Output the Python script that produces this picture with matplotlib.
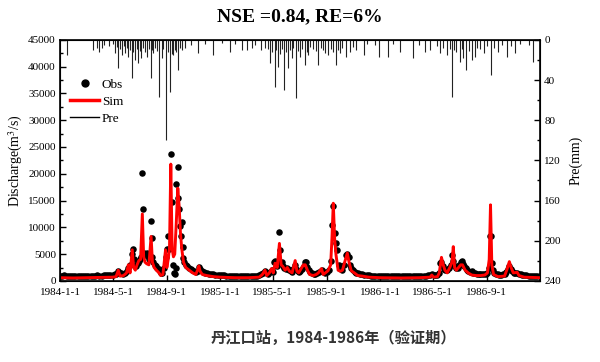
import numpy as np
import pandas as pd
import matplotlib
matplotlib.use('Agg')
import matplotlib.pyplot as plt
from matplotlib.lines import Line2D
from matplotlib.ticker import MultipleLocator

# days counted from 1984-01-01
start = pd.Timestamp('1984-01-01')

# simulated discharge (m3/s)
sim_day = [0, 30, 60, 90, 120, 128, 133, 137, 145, 152, 156, 160, 165, 168, 172, 176, 180, 184, 188, 191,
           194, 198, 203, 208, 211, 215, 220, 226, 230, 235, 238, 241, 244, 247, 250, 253, 256, 259, 262, 265,
           269, 272, 275, 278, 282, 287, 295, 303, 310, 314, 317, 320, 325, 335, 350, 366,
           400, 430, 455, 462, 468, 472, 478, 483, 487, 491, 496, 501, 505, 509, 514, 519, 524, 530, 537, 541,
           545, 552, 556, 560, 565, 570, 578, 585, 590, 597, 601, 606, 612, 618, 621, 624, 627, 630, 635, 640,
           645, 650, 656, 660, 665, 672, 680, 690, 705, 731,
           780, 820, 845, 849, 853, 862, 866, 871, 875, 879, 884, 890, 895, 898, 901, 905, 910, 915, 919, 925,
           932, 940, 950, 960, 970, 976, 980, 983, 986, 990, 1000, 1015, 1020, 1026, 1030, 1035, 1044, 1048,
           1060, 1096]
sim_q = [600, 550, 600, 650, 700, 800, 2000, 900, 1000, 1500, 3000, 1500, 5800, 2500, 2000, 3000, 3800, 4000, 12500, 4500,
         3500, 3200, 3000, 8300, 3500, 2500, 2000, 1500, 1000, 1200, 3500, 5800, 2500, 4000, 6000, 21800, 6000, 4500, 5000, 10000,
         17300, 14000, 9000, 6000, 3500, 2500, 2000, 1500, 1200, 2000, 2800, 1800, 1200, 1000, 800, 700,
         600, 600, 700, 1200, 2000, 1000, 1500, 2300, 1500, 3300, 2500, 7000, 3000, 2700, 2000, 2500, 1800, 1500, 3800, 1800,
         1500, 2500, 3000, 3000, 2000, 1200, 1000, 1200, 1500, 2300, 1200, 1500, 1900, 3000, 8000, 14500, 8000, 5000, 2000, 1800,
         2000, 3500, 5200, 3500, 1900, 1500, 1000, 900, 700, 600,
         550, 600, 700, 1100, 700, 800, 1500, 4400, 3000, 2000, 1500, 2500, 3500, 6400, 2500, 2000, 2500, 3000, 3000, 2000,
         1500, 1100, 1000, 1000, 1100, 1500, 4000, 14200, 3000, 1200, 800, 900, 2000, 3600, 2500, 1500, 1600, 1000,
         700, 600]

obs_day = [0, 5, 10, 15, 20, 25, 30, 35, 40, 45, 50, 55, 60, 65, 70, 75, 80, 85, 90, 95, 100, 105, 110, 115, 120, 125,
           129, 133, 136, 140, 144, 148, 152, 156, 160, 164, 166, 168, 171, 174, 177, 180, 183, 186, 188, 190, 192, 195,
           198, 201, 204, 207, 209, 211, 213, 216, 219, 222, 225, 228, 231, 234, 237, 241, 244, 247, 250, 253, 255, 258,
           260, 262, 264, 266, 269, 270, 272, 274, 276, 278, 280, 281, 284, 287, 290, 294, 298, 302, 306, 310, 314, 317,
           320, 324, 328, 332, 336, 340, 345, 350, 355, 360, 365,
           370, 375, 380, 385, 390, 395, 400, 405, 410, 415, 420, 425, 430, 435, 440, 445, 450, 455, 460, 464, 468, 472,
           476, 480, 483, 486, 489, 492, 495, 498, 501, 503, 506, 509, 512, 515, 518, 521, 524, 527, 530, 533, 537, 540,
           543, 546, 549, 552, 556, 559, 562, 565, 568, 571, 575, 579, 583, 587, 591, 595, 598, 602, 606, 610, 614, 618,
           621, 624, 627, 630, 633, 636, 639, 642, 645, 649, 653, 656, 659, 662, 665, 669, 673, 677, 681, 685, 690, 695,
           700, 705, 710, 715, 720, 725, 730,
           735, 740, 745, 750, 755, 760, 765, 770, 775, 780, 785, 790, 795, 800, 805, 810, 815, 820, 825, 830, 835, 840,
           845, 849, 853, 857, 861, 865, 868, 871, 874, 877, 880, 884, 888, 892, 896, 898, 901, 904, 908, 912, 915, 917,
           920, 923, 926, 929, 932, 936, 940, 944, 948, 952, 956, 960, 964, 968, 972, 976, 980, 982, 984, 986, 988, 991,
           995, 999, 1003, 1007, 1011, 1015, 1019, 1023, 1026, 1029, 1032, 1036, 1040, 1044, 1048, 1052, 1056, 1060,
           1065, 1070, 1075, 1080, 1085, 1090, 1095]
obs_q = [950, 1000, 1050, 980, 950, 1000, 960, 920, 950, 980, 950, 930, 960, 1000, 980, 950, 1000, 1050, 1000, 980, 1050, 1100, 1050, 1100, 1150, 1200,
         1300, 1800, 1500, 1400, 1300, 1500, 1800, 2500, 3000, 5000, 6000, 4000, 3000, 2800, 3300, 3800, 4000, 4500, 20100, 13400, 5200, 4800,
         5200, 4600, 4000, 11100, 8100, 4500, 3500, 3000, 2800, 2500, 2200, 1800, 1500, 1400, 2500, 4500, 6000, 8300, 6000, 23600, 14800, 3000,
         1500, 1200, 2500, 18000, 21300, 15400, 13400, 10200, 8300, 11000, 6300, 4200, 3500, 3000, 2700, 2400, 2200, 2000, 1800, 1700, 1900, 2600,
         2200, 1800, 1600, 1500, 1400, 1300, 1250, 1200, 1150, 1100, 1100,
         1100, 1050, 1000, 1000, 980, 950, 950, 920, 900, 900, 880, 900, 900, 920, 950, 950, 1000, 1050, 1200, 1500, 1800, 1400,
         1300, 1600, 2000, 1700, 3600, 3700, 2800, 3500, 9100, 5800, 3500, 2800, 2400, 2200, 2500, 2200, 2000, 1800, 1700, 2200, 3000, 2200,
         1800, 1600, 1900, 2300, 2800, 3600, 3500, 2600, 2000, 1700, 1500, 1300, 1300, 1500, 1700, 1900, 2000, 1600, 1500, 1700, 2000, 3700,
         10400, 13900, 9000, 7000, 5800, 3000, 2500, 2200, 2100, 3000, 4900, 5000, 4500, 3000, 2500, 2000, 1700, 1500, 1400, 1300, 1200, 1150,
         1100, 1050, 1000, 1000, 980, 960, 950,
         950, 930, 920, 900, 900, 880, 880, 870, 880, 880, 900, 900, 900, 920, 950, 950, 950, 980, 1000, 1000, 1000, 1050,
         1100, 1300, 1100, 1050, 1100, 1500, 3300, 3600, 2800, 2300, 2000, 2100, 2500, 3000, 4900, 3700, 2800, 2400, 2500, 2900, 3500, 3800,
         3200, 2800, 2400, 2000, 1800, 1600, 1800, 1500, 1400, 1300, 1300, 1250, 1250, 1300, 1300, 1400, 2500, 8400, 8300, 3300, 2000, 1500,
         1300, 1200, 1150, 1150, 1200, 1250, 1600, 2300, 2700, 2200, 1800, 1500, 1400, 1500, 1300, 1200, 1150, 1100,
         1050, 1000, 1000, 980, 960, 950, 950]

# daily precipitation (mm)
pre_day = [17, 76, 84, 90, 95, 100, 112, 120, 126, 130, 133, 136, 141, 145, 148, 152, 156, 160, 164, 167, 171, 175, 179, 182,
           186, 190, 194, 199, 203, 207, 210, 213, 218, 222, 226, 232, 236, 242, 246, 251, 255, 259, 263, 266, 270, 274, 278,
           285, 300, 316, 330, 349, 370, 388, 400, 415, 426, 438, 445, 460, 468, 475, 479, 484, 491, 494, 498, 503, 507, 511,
           515, 521, 525, 529, 533, 539, 543, 548, 553, 559, 563, 567, 571, 578, 585, 590, 595, 600, 605, 613, 618, 624, 630,
           634, 639, 645, 654, 662, 668, 677, 693, 700, 720, 729, 750, 760, 776, 805, 820, 833, 845, 860, 868, 875, 883, 890,
           896, 900, 905, 913, 917, 921, 928, 933, 940, 947, 952, 960, 967, 975, 983, 990, 1001, 1010, 1020, 1030, 1039,
           1050, 1070, 1081]
pre_mm = [15, 10, 8, 12, 8, 5, 6, 4, 13, 7, 28, 9, 15, 6, 13, 8, 17, 10, 38, 12, 20, 9, 23, 11,
          18, 8, 12, 17, 9, 38, 10, 13, 8, 11, 57, 18, 9, 100, 12, 52, 14, 15, 10, 12, 30, 8, 10,
          8, 5, 13, 4, 15, 3, 12, 4, 10, 10, 8, 5, 10, 8, 9, 23, 12, 47, 10, 27, 14, 9, 50,
          12, 28, 10, 18, 8, 58, 11, 17, 9, 25, 12, 15, 7, 9, 11, 25, 8, 10, 13, 15, 9, 12, 25,
          10, 13, 8, 17, 12, 7, 10, 15, 4, 5, 17, 17, 4, 12, 18, 5, 12, 10, 6, 13, 8, 15, 9,
          57, 10, 12, 22, 9, 18, 30, 11, 20, 17, 8, 9, 13, 6, 35, 8, 12, 5, 17, 6, 13,
          4, 5, 22]

tick_labels = ['1984-1-1', '1984-5-1', '1984-9-1', '1985-1-1', '1985-5-1',
               '1985-9-1', '1986-1-1', '1986-5-1', '1986-9-1']


def to_date(days):
    return start + pd.to_timedelta(np.asarray(days), unit='D')


plt.rcParams['font.family'] = ['Liberation Serif', 'DejaVu Serif']
plt.rcParams['mathtext.fontset'] = 'stix'

fig = plt.figure(figsize=(6, 3.62), dpi=100)
ax = fig.add_axes([0.1, 0.224, 0.8, 0.666])

ax.scatter(to_date(obs_day), obs_q, s=22, c='black', linewidths=0, zorder=2)
ax.plot(to_date(sim_day), sim_q, color='red', lw=2.1, zorder=3)

ax.set_xlim(start, pd.Timestamp('1987-01-01'))
ax.set_ylim(0, 45000)
ax.set_yticks(range(0, 45001, 5000))
ax.yaxis.set_minor_locator(MultipleLocator(2500))
ax.set_xticks(pd.to_datetime(tick_labels))
ax.set_xticklabels(tick_labels)
ax.tick_params(direction='in', labelsize=8, length=4, width=1, pad=3)
ax.tick_params(axis='x', pad=5)
ax.tick_params(which='minor', direction='in', length=2.5, width=1)
ax.set_ylabel('Discharge(m$^3$/s)', fontsize=10, labelpad=2)
for s in ax.spines.values():
    s.set_linewidth(1.2)

ax2 = ax.twinx()
ax2.vlines(to_date(pre_day), 0, pre_mm, color='#222222', lw=0.8)
ax2.set_ylim(240, 0)
ax2.set_yticks(range(0, 241, 40))
ax2.yaxis.set_minor_locator(MultipleLocator(20))
ax2.tick_params(direction='in', labelsize=8, length=4, width=1, pad=3)
ax2.tick_params(which='minor', direction='in', length=2.5, width=1)
ax2.set_ylabel('Pre(mm)', fontsize=10, labelpad=6)

handles = [Line2D([], [], marker='o', ls='none', color='black', ms=5),
           Line2D([], [], color='red', lw=2.5),
           Line2D([], [], color='black', lw=1)]
ax2.legend(handles, ['Obs', 'Sim', 'Pre'], loc='upper left', bbox_to_anchor=(0.01, 0.86),
           frameon=False, fontsize=9.5, handlelength=2.2, handletextpad=0.2,
           labelspacing=0.35, borderaxespad=0)

fig.text(0.5, 0.953, 'NSE =0.84, RE=6%', ha='center', va='center',
         fontsize=14, fontweight='bold')
fig.text(0.555, 0.066, '丹江口站，1984-1986年（验证期）', ha='center', va='center',
         family=['Noto Sans CJK SC', 'DejaVu Sans'], fontweight='bold', fontsize=11, color='#333333')

fig.savefig('out.png', dpi=100)
